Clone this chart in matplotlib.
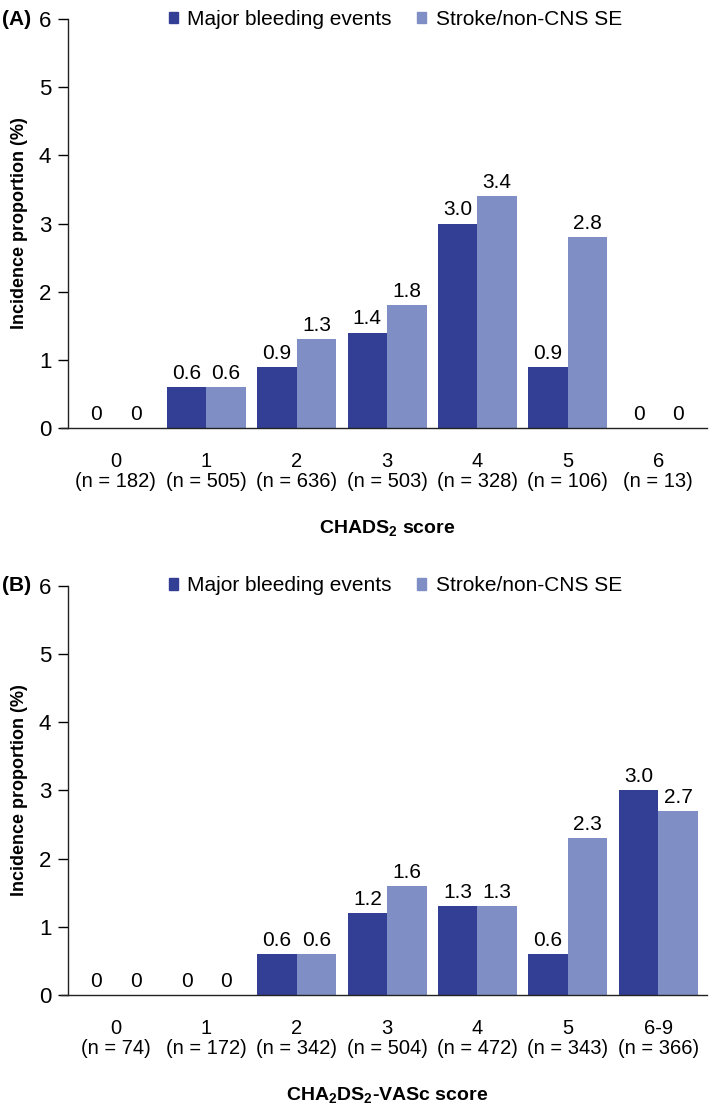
import numpy as np
import matplotlib
matplotlib.use('Agg')
import matplotlib.pyplot as plt
from matplotlib.patches import Patch

plt.rcParams['font.family'] = ['Liberation Sans', 'DejaVu Sans']
plt.rcParams['mathtext.fontset'] = 'custom'
plt.rcParams['mathtext.rm'] = 'Liberation Sans'
plt.rcParams['mathtext.bf'] = 'Liberation Sans:bold'

# panel A: CHADS2
chads_scores = ['0', '1', '2', '3', '4', '5', '6']
chads_n = [182, 505, 636, 503, 328, 106, 13]
chads_bleed = [0, 0.6, 0.9, 1.4, 3.0, 0.9, 0]
chads_stroke = [0, 0.6, 1.3, 1.8, 3.4, 2.8, 0]

# panel B: CHA2DS2-VASc
vasc_scores = ['0', '1', '2', '3', '4', '5', '6-9']
vasc_n = [74, 172, 342, 504, 472, 343, 366]
vasc_bleed = [0, 0, 0.6, 1.2, 1.3, 0.6, 3.0]
vasc_stroke = [0, 0, 0.6, 1.6, 1.3, 2.3, 2.7]

DARK = '#333f95'
LIGHT = '#7f8fc5'
FS = 14.5


def panel(ax, scores, n, bleed, stroke, xlabel, tag):
    x = np.arange(len(scores))
    w = 0.437
    b1 = ax.bar(x - w / 2, bleed, w, color=DARK)
    b2 = ax.bar(x + w / 2, stroke, w, color=LIGHT)
    for bars, vals in ((b1, bleed), (b2, stroke)):
        for r, v in zip(bars, vals):
            txt = '0' if v == 0 else '%.1f' % v
            ax.annotate(txt, (r.get_x() + r.get_width() / 2, v), xytext=(0, 3),
                        textcoords='offset points', ha='center', va='bottom', fontsize=FS + 0.5)

    ax.set_xlim(-0.53, len(scores) - 0.46)
    ax.set_ylim(0, 6)
    ax.set_yticks(range(7))
    ax.set_xticks(x)
    ax.set_xticklabels(['%s\n(n = %d)' % (s, k) for s, k in zip(scores, n)], linespacing=1.08)
    ax.tick_params(axis='x', length=0, pad=17, labelsize=FS)
    ax.tick_params(axis='y', length=7, width=1, pad=5, labelsize=FS + 1.5)
    for s in ('top', 'right'):
        ax.spines[s].set_visible(False)
    for s in ('left', 'bottom'):
        ax.spines[s].set_linewidth(1)
        ax.spines[s].set_color('#222222')
    ax.spines['bottom'].set_bounds(-0.61, len(scores) - 0.46)

    ax.set_ylabel('Incidence proportion (%)', fontsize=13, fontweight='bold', labelpad=8)
    ax.set_xlabel(xlabel, fontsize=14, fontweight='bold', labelpad=20)

    handles = [Patch(color=DARK, label='Major bleeding events'),
               Patch(color=LIGHT, label='Stroke/non-CNS SE')]
    ax.legend(handles=handles, loc='center', bbox_to_anchor=(0.512, 1.0), ncol=2,
              frameon=False, fontsize=15, handlelength=0.45, handleheight=0.45,
              handletextpad=0.45, columnspacing=1.2, borderpad=0)
    ax.text(-66 / 639, 1.0, tag, transform=ax.transAxes, fontsize=15, fontweight='bold',
            ha='left', va='center')


fig = plt.figure(figsize=(7.09, 11.06), dpi=100)
axA = fig.add_axes([0.0959, 0.6130, 0.9014, 0.3698])
axB = fig.add_axes([0.0959, 0.1004, 0.9014, 0.3698])

panel(axA, chads_scores, chads_n, chads_bleed, chads_stroke, r'CHADS$_{\mathbf{2}}$ score', '(A)')
panel(axB, vasc_scores, vasc_n, vasc_bleed, vasc_stroke,
      r'CHA$_{\mathbf{2}}$DS$_{\mathbf{2}}$-VASc score', '(B)')

fig.savefig('out.png', dpi=100)
